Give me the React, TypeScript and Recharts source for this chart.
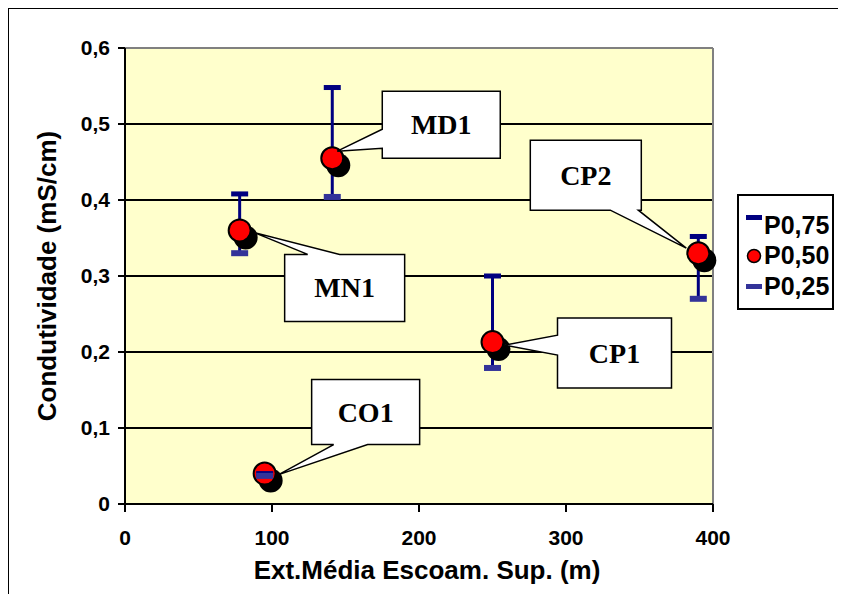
import {
  ScatterChart,
  Scatter,
  XAxis,
  YAxis,
  CartesianGrid,
  ErrorBar,
  Legend,
  ReferenceLine,
} from "recharts";

// sites and their percentiles of conductivity
const sites = ["MN1", "MD1", "CO1", "CP1", "CP2"];
const extMedia = [78, 141, 95, 250, 390];
const p50 = [0.36, 0.455, 0.04, 0.213, 0.33];
const p75 = [0.408, 0.548, 0.04, 0.3, 0.352];
const p25 = [0.33, 0.404, 0.037, 0.179, 0.27];

const xTicks = [0, 100, 200, 300, 400];
const yTicks = [0, 0.1, 0.2, 0.3, 0.4, 0.5, 0.6];

const data = sites.map((site, i) => ({
  site,
  x: extMedia[i],
  p50: p50[i],
  p75: p75[i],
  p25: p25[i],
  err: [p50[i] - p25[i], p75[i] - p50[i]],
}));

const SANS = "'Liberation Sans', Arial, sans-serif";
const SERIF = "'Liberation Serif', 'Times New Roman', serif";

// callout placement, relative to the point (px)
const callouts = {
  MN1: { dx: 45, dy: 24, w: 120, h: 67, side: "top", b1: 23, b2: 55, tx: 14, ty: 2 },
  MD1: { dx: 50, dy: -67, w: 118, h: 67, side: "left", b1: 38, b2: 57, tx: 5, ty: -7 },
  CO1: { dx: 47, dy: -94, w: 108, h: 65, side: "bottom", b1: 22, b2: 56, tx: 14, ty: 1 },
  CP1: { dx: 65, dy: -24, w: 114, h: 70, side: "left", b1: 17, b2: 37, tx: 12, ty: 3 },
  CP2: { dx: -168, dy: -113, w: 111, h: 70, side: "bottom", b1: 80, b2: 108, tx: -12, ty: -5 },
};

function calloutPath(x, y, w, h, side, b1, b2, tipX, tipY) {
  const r = x + w;
  const b = y + h;
  let pts;
  if (side === "top") {
    pts = [[x, y], [x + b1, y], [tipX, tipY], [x + b2, y], [r, y], [r, b], [x, b]];
  } else if (side === "bottom") {
    pts = [[x, y], [r, y], [r, b], [x + b2, b], [tipX, tipY], [x + b1, b], [x, b]];
  } else {
    pts = [[x, y], [r, y], [r, b], [x, b], [x, y + b2], [tipX, tipY], [x, y + b1]];
  }
  return "M" + pts.map((p) => p.join(",")).join("L") + "Z";
}

const CalloutShape = (props) => {
  const { cx, cy, payload } = props;
  const c = callouts[payload.site];
  if (!c) return null;
  const x = cx + c.dx;
  const y = cy + c.dy;
  return (
    <g>
      <path
        d={calloutPath(x, y, c.w, c.h, c.side, c.b1, c.b2, cx + c.tx, cy + c.ty)}
        fill="#fff"
        stroke="#000"
        strokeWidth={1.5}
      />
      <text
        x={x + c.w / 2}
        y={y + c.h / 2}
        textAnchor="middle"
        dominantBaseline="central"
        fontFamily={SERIF}
        fontWeight="bold"
        fontSize={28}
      >
        {payload.site}
      </text>
    </g>
  );
};

const ShadowShape = ({ cx, cy }) => <circle cx={cx + 6} cy={cy + 7} r={12} fill="#000" />;
const RedDot = ({ cx, cy }) => (
  <circle cx={cx} cy={cy} r={11} fill="#FF0000" stroke="#000" strokeWidth={2} />
);
const HighDash = ({ cx, cy }) => <rect x={cx - 8.5} y={cy - 2.5} width={17} height={5} fill="#000080" />;
const LowDash = ({ cx, cy }) => <rect x={cx - 8.5} y={cy - 3} width={17} height={6} fill="#333399" />;

const legendOrder = ["P0,75", "P0,50", "P0,25"];

const legendIcon = (name) => {
  if (name === "P0,75") return <rect x={1} y={2} width={16} height={5} fill="#000080" />;
  if (name === "P0,50")
    return <circle cx={9} cy={12} r={6.5} fill="#FF0000" stroke="#000" strokeWidth={1.5} />;
  return <rect x={1} y={10} width={16} height={5} fill="#333399" />;
};

const LegendBox = (props) => {
  const items = [...(props.payload || [])]
    .filter((p) => legendOrder.includes(p.value))
    .sort((a, b) => legendOrder.indexOf(a.value) - legendOrder.indexOf(b.value));
  return (
    <div
      style={{
        boxSizing: "border-box",
        width: 97,
        height: 116,
        border: "2px solid #000",
        background: "#fff",
        paddingTop: 14,
        paddingLeft: 6,
        fontFamily: SANS,
        fontWeight: "bold",
        fontSize: 25,
        color: "#000",
      }}
    >
      {items.map((it) => (
        <div key={it.value} style={{ display: "flex", alignItems: "center", height: 30.5 }}>
          <svg width={18} height={24} style={{ marginRight: 1 }}>
            {legendIcon(it.value)}
          </svg>
          <span>{it.value}</span>
        </div>
      ))}
    </div>
  );
};

const tickStyle = { fill: "#000", fontSize: 21, fontWeight: "bold", fontFamily: SANS };
const fmtY = (v) => (v === 0 ? "0" : v.toFixed(1).replace(".", ","));

export default function App() {
  return (
    <div style={{ position: "relative", margin: -8, width: 846, height: 602 }}>
      <div
        style={{
          position: "absolute",
          left: 7,
          top: 7,
          width: 833,
          height: 591,
          border: "2px solid #000",
          boxSizing: "border-box",
        }}
      />
      <ScatterChart
        width={846}
        height={602}
        margin={{ top: 48, right: 133, bottom: 0, left: 0 }}
        style={{ position: "absolute", left: 0, top: 0 }}
      >
        <CartesianGrid vertical={false} stroke="#000" strokeWidth={2} fill="#FFFFCC" fillOpacity={1} />
        <ReferenceLine y={0.6} stroke="#808080" strokeWidth={2} />
        <ReferenceLine x={400} stroke="#808080" strokeWidth={2} />
        <XAxis
          type="number"
          dataKey="x"
          domain={[0, 400]}
          ticks={xTicks}
          height={98}
          tickSize={8}
          tickMargin={18}
          axisLine={{ stroke: "#000", strokeWidth: 2 }}
          tickLine={{ stroke: "#000", strokeWidth: 2 }}
          tick={tickStyle}
          label={{
            position: "insideBottom",
            content: () => (
              <text
                x={427}
                y={579}
                textAnchor="middle"
                fontFamily={SANS}
                fontWeight="bold"
                fontSize={26}
                fill="#000"
              >
                Ext.Média Escoam. Sup. (m)
              </text>
            ),
          }}
        />
        <YAxis
          type="number"
          domain={[0, 0.6]}
          ticks={yTicks}
          width={125}
          tickSize={7}
          tickMargin={8}
          tickFormatter={fmtY}
          axisLine={{ stroke: "#000", strokeWidth: 2 }}
          tickLine={{ stroke: "#000", strokeWidth: 2 }}
          tick={tickStyle}
          label={{
            position: "insideLeft",
            content: () => (
              <text
                x={56}
                y={276}
                transform="rotate(-90 56 276)"
                textAnchor="middle"
                fontFamily={SANS}
                fontWeight="bold"
                fontSize={26}
                fill="#000"
              >
                Condutividade (mS/cm)
              </text>
            ),
          }}
        />
        <Scatter
          name="sombra"
          data={data}
          dataKey="p50"
          shape={ShadowShape}
          legendType="none"
          isAnimationActive={false}
        />
        <Scatter name="P0,50" data={data} dataKey="p50" fill="#FF0000" shape={RedDot} isAnimationActive={false}>
          <ErrorBar
            dataKey="err"
            direction="y"
            width={0}
            stroke="#000080"
            strokeWidth={3}
            isAnimationActive={false}
          />
        </Scatter>
        <Scatter name="P0,75" data={data} dataKey="p75" fill="#000080" shape={HighDash} isAnimationActive={false} />
        <Scatter name="P0,25" data={data} dataKey="p25" fill="#333399" shape={LowDash} isAnimationActive={false} />
        <Scatter
          name="rotulos"
          data={data}
          dataKey="p50"
          shape={CalloutShape}
          legendType="none"
          isAnimationActive={false}
        />
        <Legend
          layout="vertical"
          align="center"
          verticalAlign="middle"
          wrapperStyle={{ left: 737, top: 194, width: 97, height: 116 }}
          content={LegendBox}
        />
      </ScatterChart>
    </div>
  );
}
